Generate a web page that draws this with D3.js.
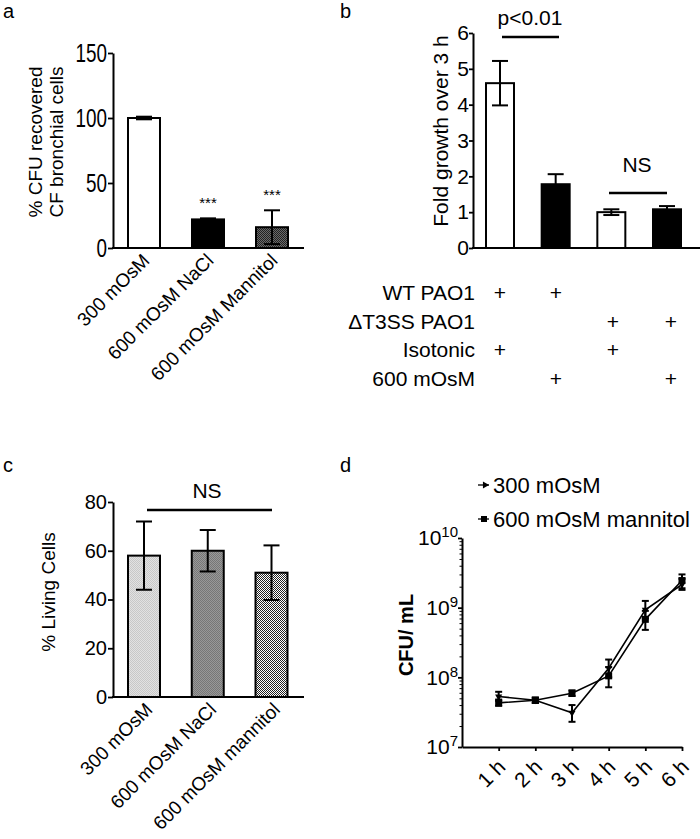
<!DOCTYPE html>
<html><head><meta charset="utf-8">
<script src="https://cdn.jsdelivr.net/npm/d3@7"></script>
<style>
body{margin:0;background:#fff;}
text{font-family:"Liberation Sans",Arial,sans-serif;fill:#000;}
</style></head>
<body><svg id="c" width="700" height="839"></svg>
<script>
// ---------- DATA ----------
const catsA = ["300 mOsM", "600 mOsM NaCl", "600 mOsM Mannitol"];
const valsA = [100, 22, 16];
const errA  = [1, 0.8, 13];
const sigA  = ["", "***", "***"];
const ticksA = [0, 50, 100, 150];

const catsB = ["WT iso", "WT 600", "T3SS iso", "T3SS 600"];
const valsB = [4.6, 1.78, 1.0, 1.08];
const errB  = [0.62, 0.28, 0.08, 0.09];
const ticksB = [0, 1, 2, 3, 4, 5, 6];
const rowLabelsB = ["WT PAO1", "\u0394T3SS PAO1", "Isotonic", "600 mOsM"];
const rowPlusB = [[1,1,0,0],[0,0,1,1],[1,0,1,0],[0,1,0,1]];

const catsC = ["300 mOsM", "600 mOsM NaCl", "600 mOsM mannitol"];
const valsC = [58, 60, 51];
const errC  = [14, 8.5, 11.2];
const ticksC = [0, 20, 40, 60, 80];

const hoursD = ["1 h", "2 h", "3 h", "4 h", "5 h", "6 h"];
const s300  = [5.3e7, 4.7e7, 3.1e7, 1.35e8, 9.3e8, 2.15e9];
const s300Lo = [4.6e7, 4.3e7, 2.3e7, 1.0e8, 7.0e8, 1.9e9];
const s300Hi = [6.2e7, 5.1e7, 4.0e7, 1.8e8, 1.25e9, 2.6e9];
const sMan  = [4.3e7, 4.7e7, 5.9e7, 1.05e8, 6.8e8, 2.45e9];
const sManLo = [3.9e7, 4.3e7, 5.4e7, 7.2e7, 4.8e8, 1.8e9];
const sManHi = [4.8e7, 5.1e7, 6.5e7, 1.4e8, 9.0e8, 3.0e9];
const legendD = ["300 mOsM", "600 mOsM mannitol"];
const ticksD = [1e7, 1e8, 1e9, 1e10];

// ---------- SETUP ----------
const svg = d3.select("#c");
const defs = svg.append("defs");
function pat(id, bg, fg, checker){
  const p = defs.append("pattern").attr("id", id).attr("width", 2).attr("height", 2)
    .attr("patternUnits", "userSpaceOnUse");
  p.append("rect").attr("width", 2).attr("height", 2).attr("fill", bg);
  p.append("rect").attr("width", 1).attr("height", 1).attr("fill", fg);
  if (checker) p.append("rect").attr("x",1).attr("y",1).attr("width", 1).attr("height", 1).attr("fill", fg);
}
pat("pA3", "#6a6a6a", "#222", true);
pat("pC1", "#e2e2e2", "#c8c8c8", true);
pat("pC2", "#999", "#777", true);
pat("pC3", "#fff", "#222", true);

function styleAxis(g, fs){
  g.attr("font-size", fs).style("font-size", fs + "px");
  g.selectAll("path.domain").attr("stroke", "#000").attr("stroke-width", 2);
  g.selectAll(".tick line").attr("stroke", "#000").attr("stroke-width", 1.8);
  g.selectAll(".tick text").style("font-size", fs + "px").attr("fill", "#000")
    .style("font-family", "'Liberation Sans', Arial, sans-serif");
}
function letter(t, x, y){
  svg.append("text").attr("x", x).attr("y", y).style("font-size", "20px").text(t);
}
function ylabel(lines, x0, cy, fs, bold, gap){
  lines.forEach((l, i) => {
    svg.append("text").attr("transform", `translate(${x0 + i*gap},${cy}) rotate(-90)`)
      .attr("text-anchor", "middle").style("font-size", fs + "px")
      .attr("font-weight", bold ? "bold" : "normal").text(l);
  });
}
function txt(x, y, s, fs, anchor){
  return svg.append("text").attr("x", x).attr("y", y).attr("text-anchor", anchor || "middle")
    .style("font-size", fs + "px").text(s);
}
function errbar(g, x, y1, y2, cap){
  g.append("line").attr("x1", x).attr("x2", x).attr("y1", y1).attr("y2", y2)
    .attr("stroke", "#000").attr("stroke-width", 2);
  [y1, y2].forEach(y => g.append("line").attr("x1", x - cap/2).attr("x2", x + cap/2)
    .attr("y1", y).attr("y2", y).attr("stroke", "#000").attr("stroke-width", 2));
}

// ---------- PANEL A ----------
letter("a", 3, 18);
{
  const y = d3.scaleLinear().domain([0, 150]).range([248, 53]);
  const x = d3.scalePoint().domain(catsA).range([144, 272]);
  const bw = 32;
  const g = svg.append("g");
  const fills = ["#fff", "#000", "url(#pA3)"];
  catsA.forEach((c, i) => {
    g.append("rect").attr("x", x(c) - bw/2).attr("y", y(valsA[i])).attr("width", bw)
      .attr("height", y(0) - y(valsA[i])).attr("fill", fills[i]).attr("stroke", "#000").attr("stroke-width", 2);
  });
  catsA.forEach((c, i) => {
    errbar(g, x(c), y(valsA[i] + errA[i]), y(valsA[i] - errA[i]), 16);
    if (sigA[i]) txt(x(c), y(valsA[i] + errA[i]) - 10, sigA[i], 15);
  });
  const ax = svg.append("g").attr("transform", "translate(113,0)")
    .call(d3.axisLeft(y).tickValues(ticksA).tickFormat(d3.format("d")).tickSize(5).tickPadding(1).tickSizeOuter(0));
  styleAxis(ax, 25);
  ax.selectAll(".tick text").attr("textLength", d => String(d).length * 10.5)
    .attr("lengthAdjust", "spacingAndGlyphs");
  svg.append("line").attr("x1", 112).attr("x2", 304).attr("y1", 248).attr("y2", 248)
    .attr("stroke", "#000").attr("stroke-width", 2);
  catsA.forEach(c => {
    svg.append("text").attr("transform", `translate(${x(c) + 2},${257}) rotate(-45)`)
      .attr("text-anchor", "end").attr("dy", "0.35em").style("font-size", "19px").text(c);
  });
  ylabel(["% CFU recovered", "CF bronchial cells"], 42, 142, 19, false, 21);
}

// ---------- PANEL B ----------
letter("b", 340, 18);
{
  const y = d3.scaleLinear().domain([0, 6]).range([248, 33]);
  const x = d3.scalePoint().domain(catsB).range([500, 667]);
  const bw = 28;
  const g = svg.append("g");
  const fills = ["#fff", "#000", "#fff", "#000"];
  catsB.forEach((c, i) => {
    g.append("rect").attr("x", x(c) - bw/2).attr("y", y(valsB[i])).attr("width", bw)
      .attr("height", y(0) - y(valsB[i])).attr("fill", fills[i]).attr("stroke", "#000").attr("stroke-width", 2);
  });
  catsB.forEach((c, i) => errbar(g, x(c), y(valsB[i] + errB[i]), y(valsB[i] - errB[i]), 16));
  const ax = svg.append("g").attr("transform", "translate(473,0)")
    .call(d3.axisLeft(y).tickValues(ticksB).tickFormat(d3.format("d")).tickSize(4).tickPadding(0).tickSizeOuter(0));
  styleAxis(ax, 21);
  svg.append("line").attr("x1", 472).attr("x2", 700).attr("y1", 248).attr("y2", 248)
    .attr("stroke", "#000").attr("stroke-width", 2);
  // significance
  svg.append("line").attr("x1", 502).attr("x2", 559).attr("y1", 37).attr("y2", 37).attr("stroke", "#000").attr("stroke-width", 2.5);
  txt(530, 25, "p<0.01", 21);
  svg.append("line").attr("x1", 609).attr("x2", 667).attr("y1", 193).attr("y2", 193).attr("stroke", "#000").attr("stroke-width", 2.5);
  txt(637, 172, "NS", 21);
  ylabel(["Fold growth over 3 h"], 448, 131, 21, false, 0);
  // table
  const colX = [500, 556, 613, 671];
  rowLabelsB.forEach((r, i) => {
    const yy = 300 + i * 28.7;
    txt(475, yy, r, 21, "end");
    rowPlusB[i].forEach((p, j) => { if (p) txt(colX[j], yy, "+", 21); });
  });
}

// ---------- PANEL C ----------
letter("c", 3, 472);
{
  const y = d3.scaleLinear().domain([0, 80]).range([697, 502]);
  const x = d3.scalePoint().domain(catsC).range([144, 271.5]);
  const bw = 32;
  const g = svg.append("g");
  const fills = ["url(#pC1)", "url(#pC2)", "url(#pC3)"];
  catsC.forEach((c, i) => {
    g.append("rect").attr("x", x(c) - bw/2).attr("y", y(valsC[i])).attr("width", bw)
      .attr("height", y(0) - y(valsC[i])).attr("fill", fills[i]).attr("stroke", "#000").attr("stroke-width", 2);
  });
  catsC.forEach((c, i) => errbar(g, x(c), y(valsC[i] + errC[i]), y(valsC[i] - errC[i]), 16));
  const ax = svg.append("g").attr("transform", "translate(113,0)")
    .call(d3.axisLeft(y).tickValues(ticksC).tickFormat(d3.format("d")).tickSize(5).tickPadding(1).tickSizeOuter(0));
  styleAxis(ax, 20);
  svg.append("line").attr("x1", 112).attr("x2", 304).attr("y1", 697).attr("y2", 697)
    .attr("stroke", "#000").attr("stroke-width", 2);
  svg.append("line").attr("x1", 147).attr("x2", 272).attr("y1", 510).attr("y2", 510).attr("stroke", "#000").attr("stroke-width", 2.5);
  txt(207, 498, "NS", 21);
  catsC.forEach(c => {
    svg.append("text").attr("transform", `translate(${x(c) + 5},${706}) rotate(-45)`)
      .attr("text-anchor", "end").attr("dy", "0.35em").style("font-size", "19px").text(c);
  });
  ylabel(["% Living Cells"], 55, 592, 19, false, 0);
}

// ---------- PANEL D ----------
letter("d", 340, 472);
{
  const y = d3.scaleLog().domain([1e7, 1e10]).range([747, 538]);
  const x = d3.scaleLinear().domain([0, 6]).range([462, 682]);
  const g = svg.append("g");
  const ax = svg.append("g").attr("transform", "translate(462,0)")
    .call(d3.axisLeft(y).tickValues(ticksD).tickSize(4).tickPadding(0).tickSizeOuter(0).tickFormat(() => ""));
  styleAxis(ax, 21);
  ax.selectAll(".tick text").each(function(d){
    const t = d3.select(this);
    t.append("tspan").text("10");
    t.append("tspan").attr("dy", -8).style("font-size", "15px").text(Math.round(Math.log10(d)));
  });
  const minors = [];
  [1e7, 1e8, 1e9].forEach(b => { for (let k = 2; k <= 9; k++) minors.push(b * k); });
  const am = svg.append("g").attr("transform", "translate(462,0)")
    .call(d3.axisLeft(y).tickValues(minors).tickSize(2.5).tickFormat(() => "").tickSizeOuter(0));
  am.select("path.domain").remove();
  am.selectAll(".tick line").attr("stroke", "#000").attr("stroke-width", 1);
  const xa = svg.append("g").attr("transform", "translate(0,747)")
    .call(d3.axisBottom(x).tickValues([1,2,3,4,5,6]).tickSize(4).tickSizeOuter(0).tickFormat(() => ""));
  styleAxis(xa, 19);
  hoursD.forEach((h, i) => {
    svg.append("text").attr("transform", `translate(${x(i + 1) + 3},${763}) rotate(-45)`)
      .attr("text-anchor", "end").attr("dy", "0.35em").style("font-size", "21px").text(h);
  });
  const line = d3.line().x((d, i) => x(i + 1)).y(d => y(d));
  [[s300, s300Lo, s300Hi], [sMan, sManLo, sManHi]].forEach(([s, lo, hi]) => {
    g.append("path").attr("d", line(s)).attr("fill", "none").attr("stroke", "#000").attr("stroke-width", 1.6);
    s.forEach((v, i) => errbar(g, x(i + 1), y(hi[i]), y(lo[i]), 7));
  });
  const tri = d3.symbol().type(d3.symbolTriangle).size(22);
  s300.forEach((v, i) => g.append("path").attr("d", tri()).attr("transform", `translate(${x(i+1)},${y(v)}) rotate(180)`).attr("fill", "#000"));
  sMan.forEach((v, i) => g.append("rect").attr("x", x(i+1) - 3.5).attr("y", y(v) - 3.5).attr("width", 7).attr("height", 7).attr("fill", "#000"));
  svg.append("text").attr("transform", "translate(413,635) rotate(-90)").attr("text-anchor", "middle")
    .style("font-size", "20px").attr("font-weight", "bold").text("CFU/ mL");
  // legend
  legendD.forEach((l, i) => {
    const yy = 485 + i * 34;
    svg.append("line").attr("x1", 478).attr("x2", 489).attr("y1", yy).attr("y2", yy).attr("stroke", "#000").attr("stroke-width", 1.3);
    if (i === 0) svg.append("path").attr("d", tri()).attr("transform", `translate(485,${yy}) rotate(90)`).attr("fill", "#000");
    else svg.append("rect").attr("x", 481).attr("y", yy - 3).attr("width", 6).attr("height", 6).attr("fill", "#000");
    txt(493, yy + 8, l, 22, "start");
  });
}
</script></body></html>
